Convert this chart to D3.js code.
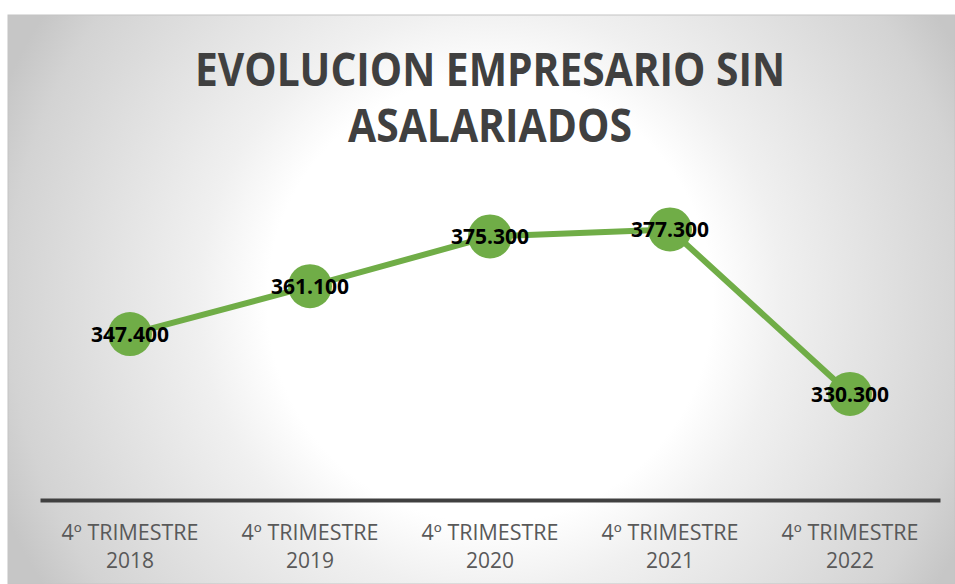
<!DOCTYPE html>
<html>
<head>
<meta charset="utf-8">
<script src="https://cdn.jsdelivr.net/npm/d3@7"></script>
<style>
  body { margin: 0; background: #fff; }
  svg { display: block; }
</style>
</head>
<body>
<svg width="955" height="584"></svg>
<script>
const quarters = ['4º TRIMESTRE', '4º TRIMESTRE', '4º TRIMESTRE', '4º TRIMESTRE', '4º TRIMESTRE']
const years = ['2018', '2019', '2020', '2021', '2022']
const values = [347.4, 361.1, 375.3, 377.3, 330.3]
const valueLabels = ['347.400', '361.100', '375.300', '377.300', '330.300']
const titleLines = ['EVOLUCION EMPRESARIO SIN', 'ASALARIADOS']

const svg = d3.select('svg')
const W = +svg.attr('width')
const H = +svg.attr('height')

// background panel, radial gradient white in the middle
const defs = svg.append('defs')
const grad = defs.append('radialGradient')
  .attr('id', 'bg')
  .attr('gradientUnits', 'userSpaceOnUse')
  .attr('cx', 490).attr('cy', 300).attr('r', 530)
grad.append('stop').attr('offset', 0).attr('stop-color', '#ffffff')
grad.append('stop').attr('offset', 0.42).attr('stop-color', '#ffffff')
grad.append('stop').attr('offset', 0.55).attr('stop-color', '#f0f0f0')
grad.append('stop').attr('offset', 0.91).attr('stop-color', '#d3d3d3')
grad.append('stop').attr('offset', 1).attr('stop-color', '#c6c6c6')

svg.append('rect')
  .attr('x', 8).attr('y', 15)
  .attr('width', W - 8).attr('height', H - 15)
  .attr('fill', 'url(#bg)')
  .attr('stroke', '#c4c4c4')
  .attr('stroke-width', 1)

// title
svg.append('g').attr('class', 'title')
  .selectAll('text')
  .data(titleLines)
  .enter().append('text')
  .attr('x', 490)
  .attr('y', (d, i) => 86 + i * 56)
  .attr('text-anchor', 'middle')
  .attr('font-family', '"Open Sans", sans-serif')
  .attr('font-weight', 'bold')
  .attr('font-size', 47)
  .attr('fill', '#404040')
  .attr('textLength', (d, i) => i === 0 ? 590 : 284)
  .attr('lengthAdjust', 'spacingAndGlyphs')
  .text(d => d)

const margin = {top: 150, left: 40, right: 15, bottom: 84}
const width = W - margin.left - margin.right
const height = H - margin.top - margin.bottom

const g = svg.append('g')
  .attr('transform', 'translate(' + margin.left + ',' + margin.top + ')')

const xScale = d3.scaleBand()
  .domain(years)
  .range([0, width])

const yScale = d3.scaleLinear()
  .domain([300, 400])
  .range([height, 0])

const cx = d => xScale(d) + xScale.bandwidth() / 2

// x axis
const xAxis = g.append('g')
  .attr('class', 'axis axis--x')
  .attr('transform', 'translate(0,' + height + ')')
  .call(d3.axisBottom(xScale).tickSize(0).tickFormat(''))
xAxis.select('.domain')
  .attr('stroke', '#404040')
  .attr('stroke-width', 4)
xAxis.selectAll('.tick text').remove()

const ticks = g.append('g').attr('class', 'tick-labels')
  .selectAll('text')
  .data(years)
  .enter().append('text')
  .attr('x', d => cx(d))
  .attr('y', height + 40)
  .attr('text-anchor', 'middle')
  .attr('font-family', '"Open Sans", sans-serif')
  .attr('font-size', 21)
  .attr('fill', '#595959')
ticks.append('tspan').attr('x', d => cx(d))
  .attr('textLength', 137).attr('lengthAdjust', 'spacingAndGlyphs')
  .text((d, i) => quarters[i])
ticks.append('tspan').attr('x', d => cx(d)).attr('dy', 28).text(d => d)

// line
const line = d3.line()
  .x((d, i) => cx(years[i]))
  .y(d => yScale(d))

g.append('path')
  .datum(values)
  .attr('fill', 'none')
  .attr('stroke', '#70ad47')
  .attr('stroke-width', 6)
  .attr('stroke-linejoin', 'round')
  .attr('d', line)

g.append('g').attr('class', 'points')
  .selectAll('circle')
  .data(values)
  .enter().append('circle')
  .attr('cx', (d, i) => cx(years[i]))
  .attr('cy', d => yScale(d))
  .attr('r', 22)
  .attr('fill', '#70ad47')

g.append('g').attr('class', 'labels')
  .selectAll('text')
  .data(values)
  .enter().append('text')
  .attr('x', (d, i) => cx(years[i]))
  .attr('y', d => yScale(d) + 8)
  .attr('text-anchor', 'middle')
  .attr('font-family', '"Open Sans", sans-serif')
  .attr('font-weight', 'bold')
  .attr('font-size', 21)
  .attr('fill', '#000')
  .text((d, i) => valueLabels[i])
</script>
</body>
</html>
